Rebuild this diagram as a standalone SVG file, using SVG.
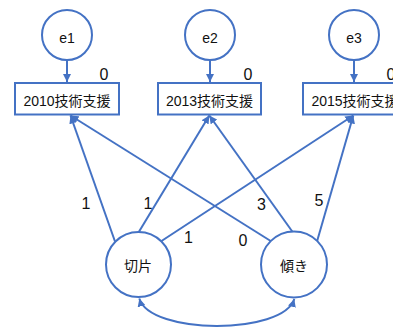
<svg xmlns="http://www.w3.org/2000/svg" width="393" height="328" viewBox="0 0 393 328">
<style>
.n{fill:#fff;stroke:#4472C4;stroke-width:2}
.t{font-family:"Liberation Sans","Noto Sans CJK JP",sans-serif;font-size:14px;fill:#111;text-anchor:middle}
.l{font-family:"Liberation Sans","Noto Sans CJK JP",sans-serif;font-size:16px;fill:#111;text-anchor:middle}
.c{fill:none;stroke:#4472C4;stroke-width:2}
</style>
<defs>
<marker id="a" viewBox="0 0 10 10" refX="10" refY="5" markerWidth="4" markerHeight="4" orient="auto-start-reverse" markerUnits="strokeWidth">
<path d="M0,0 L10,5 L0,10 z" fill="#4472C4"/>
</marker>
</defs>
<g id="connectors">
<line class="c" x1="67" y1="60" x2="67" y2="82" marker-end="url(#a)"/>
<line class="c" x1="210" y1="60" x2="210" y2="82" marker-end="url(#a)"/>
<line class="c" x1="354" y1="60" x2="354" y2="82" marker-end="url(#a)"/>
<line class="c" x1="115" y1="241.5" x2="70.5" y2="115.5" marker-end="url(#a)"/>
<line class="c" x1="138.5" y1="232.5" x2="209.3" y2="115.5" marker-end="url(#a)"/>
<line class="c" x1="161.5" y1="241" x2="353.3" y2="115.5" marker-end="url(#a)"/>
<line class="c" x1="271.5" y1="241.5" x2="70.5" y2="115.5" marker-end="url(#a)"/>
<line class="c" x1="293" y1="232.5" x2="209.3" y2="115.5" marker-end="url(#a)"/>
<line class="c" x1="317" y1="241.5" x2="353.3" y2="115.5" marker-end="url(#a)"/>
<path class="c" d="M139.3,298.5 C150,335 283,335 294.3,299" marker-start="url(#a)" marker-end="url(#a)"/>
</g>
<g id="e1"><circle class="n" cx="67" cy="35" r="25"/><text class="t" x="67" y="43">e1</text></g>
<g id="e2"><circle class="n" cx="210" cy="35" r="25"/><text class="t" x="210" y="43">e2</text></g>
<g id="e3"><circle class="n" cx="354" cy="35" r="25"/><text class="t" x="354" y="43">e3</text></g>
<g id="b2010"><rect class="n" x="15" y="83" width="104" height="31.5"/><text class="t" x="67" y="105.5">2010技術支援</text><text class="l" x="104" y="79.5">0</text></g>
<g id="b2013"><rect class="n" x="158" y="83" width="103" height="31.5"/><text class="t" x="209.5" y="105.5">2013技術支援</text><text class="l" x="248" y="79.5">0</text></g>
<g id="b2015"><rect class="n" x="303" y="83" width="104" height="31.5"/><text class="t" x="355" y="105.5">2015技術支援</text><text class="l" x="391" y="79.5">0</text></g>
<g id="seppen"><circle class="n" cx="138.5" cy="264.5" r="32.5"/><text class="t" x="138" y="271">切片</text></g>
<g id="katamuki"><circle class="n" cx="294" cy="264.5" r="33"/><text class="t" x="294" y="271">傾き</text></g>
<g id="labels">
<text class="l" x="86" y="209">1</text>
<text class="l" x="148" y="208.5">1</text>
<text class="l" x="188.5" y="243">1</text>
<text class="l" x="243" y="246">0</text>
<text class="l" x="261.5" y="210">3</text>
<text class="l" x="319" y="206">5</text>
</g>
</svg>
